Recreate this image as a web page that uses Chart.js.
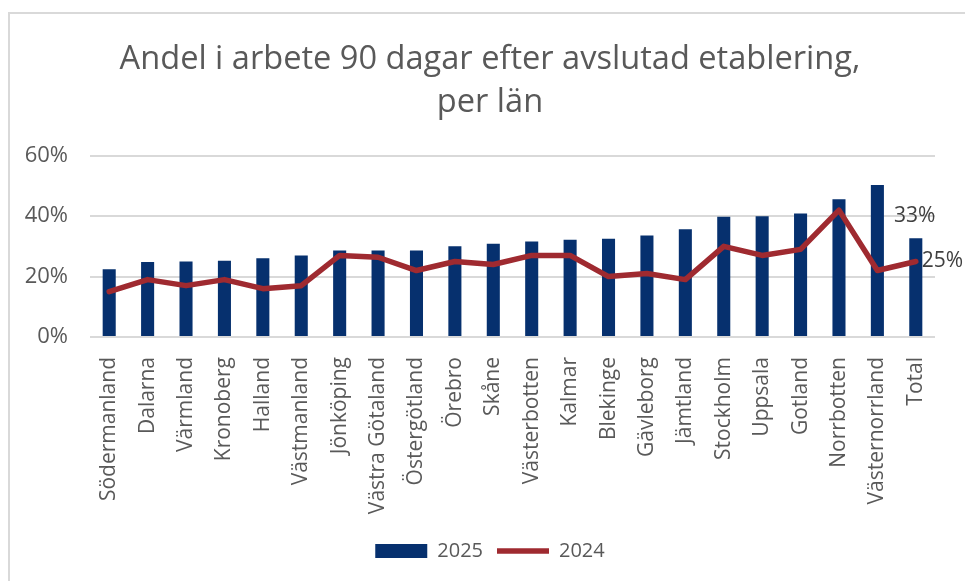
<!DOCTYPE html>
<html lang="sv">
<head>
    <meta charset="UTF-8">
    <title>Andel i arbete 90 dagar efter avslutad etablering</title>
    <script src="https://cdn.jsdelivr.net/npm/chart.js"></script>
    <style>
        html, body { margin: 0; padding: 0; background: #fff; overflow: hidden; }
        .frame {
            position: absolute; left: 8px; top: 12px; width: 1000px; height: 600px;
            border-top: 2px solid #d9d9d9; border-left: 2px solid #d9d9d9;
        }
        .wrap { position: absolute; left: 0; top: 0; width: 965px; height: 581px; }
    </style>
</head>
<body>
    <div class="frame"></div>
    <div class="wrap"><canvas id="chart"></canvas></div>

    <script>
        // Data
        const lan = ['Södermanland', 'Dalarna', 'Värmland', 'Kronoberg', 'Halland', 'Västmanland',
            'Jönköping', 'Västra Götaland', 'Östergötland', 'Örebro', 'Skåne', 'Västerbotten',
            'Kalmar', 'Blekinge', 'Gävleborg', 'Jämtland', 'Stockholm', 'Uppsala', 'Gotland',
            'Norrbotten', 'Västernorrland', 'Total'];
        const andel2025 = [22.4, 24.8, 25.0, 25.2, 26.1, 27.0, 28.6, 28.6, 28.6, 30.0, 30.9, 31.6,
            32.2, 32.5, 33.6, 35.7, 39.8, 40.0, 40.9, 45.6, 50.3, 32.7];
        const andel2024 = [15, 19, 17, 19, 16, 17, 27, 26.4, 22, 25, 24, 27,
            27, 20, 21, 19, 30, 27, 29, 42, 22, 25];
        const yTicks = [0, 20, 40, 60];

        const textGray = '#595959';
        const font = '"Open Sans", sans-serif';

        // draw value labels only for the Total category
        const lastLabels = {
            id: 'lastLabels',
            afterDatasetsDraw(chart) {
                const ctx = chart.ctx;
                const i = lan.length - 1;
                ctx.save();
                ctx.font = '21px ' + font;
                ctx.fillStyle = '#404040';
                const bar = chart.getDatasetMeta(0).data[i];
                ctx.textAlign = 'center';
                ctx.textBaseline = 'bottom';
                ctx.fillText(Math.round(andel2025[i]) + '%', bar.x - 1, bar.y - 12);
                const pt = chart.getDatasetMeta(1).data[i];
                ctx.textAlign = 'left';
                ctx.textBaseline = 'middle';
                ctx.fillText(Math.round(andel2024[i]) + '%', pt.x + 6, pt.y);
                ctx.restore();
            }
        };

        new Chart(document.getElementById('chart'), {
            data: {
                labels: lan,
                datasets: [
                    {
                        type: 'bar',
                        label: '2025',
                        data: andel2025,
                        backgroundColor: '#06306e',
                        borderWidth: 0,
                        categoryPercentage: 1,
                        barPercentage: 0.34,
                        order: 2
                    },
                    {
                        type: 'line',
                        label: '2024',
                        data: andel2024,
                        borderColor: '#9f2a30',
                        backgroundColor: '#9f2a30',
                        borderWidth: 5.5,
                        borderCapStyle: 'round',
                        borderJoinStyle: 'round',
                        pointRadius: 0,
                        tension: 0,
                        order: 1
                    }
                ]
            },
            options: {
                responsive: true,
                maintainAspectRatio: false,
                animation: false,
                layout: { padding: { top: 38, left: 15, right: 0, bottom: 10 } },
                plugins: {
                    title: {
                        display: true,
                        text: ['Andel i arbete 90 dagar efter avslutad etablering,', 'per län'],
                        color: textGray,
                        font: { family: font, size: 32.6, weight: 'normal', lineHeight: 1.33 },
                        padding: { top: 0, bottom: 31 }
                    },
                    legend: {
                        position: 'bottom',
                        labels: {
                            color: textGray,
                            font: { family: font, size: 20 },
                            usePointStyle: true,
                            pointStyleWidth: 52,
                            boxHeight: 14,
                            boxWidth: 52,
                            padding: 14,
                            generateLabels(chart) {
                                const items = Chart.defaults.plugins.legend.labels.generateLabels(chart);
                                items.sort((a, b) => a.datasetIndex - b.datasetIndex);
                                items.forEach(it => {
                                    if (it.datasetIndex === 0) {
                                        it.pointStyle = 'rect';
                                        it.lineWidth = 0;
                                    } else {
                                        it.pointStyle = 'line';
                                        it.lineWidth = 5.5;
                                    }
                                });
                                return items;
                            }
                        }
                    },
                    tooltip: { enabled: false }
                },
                scales: {
                    x: {
                        grid: { display: false },
                        border: { display: false },
                        ticks: {
                            color: textGray,
                            font: { family: font, size: 21 },
                            minRotation: 90,
                            maxRotation: 90,
                            autoSkip: false,
                            padding: 12
                        },
                        afterFit(scale) { scale.height = 190; }
                    },
                    y: {
                        min: 0,
                        max: 60,
                        afterBuildTicks(scale) { scale.ticks = yTicks.map(v => ({ value: v })); },
                        grid: { color: '#d9d9d9', lineWidth: 2, drawTicks: false },
                        border: { display: false },
                        ticks: {
                            color: textGray,
                            font: { family: font, size: 22 },
                            padding: 22,
                            callback: v => v + '%'
                        },
                        afterFit(scale) { scale.width = 75; }
                    },
                    // empty right-hand axis that only reserves space for the value labels
                    yRight: {
                        position: 'right',
                        min: 0,
                        max: 60,
                        grid: { display: false },
                        border: { display: false },
                        ticks: { display: false },
                        afterFit(scale) { scale.width = 30; }
                    }
                }
            },
            plugins: [lastLabels]
        });
    </script>
</body>
</html>
